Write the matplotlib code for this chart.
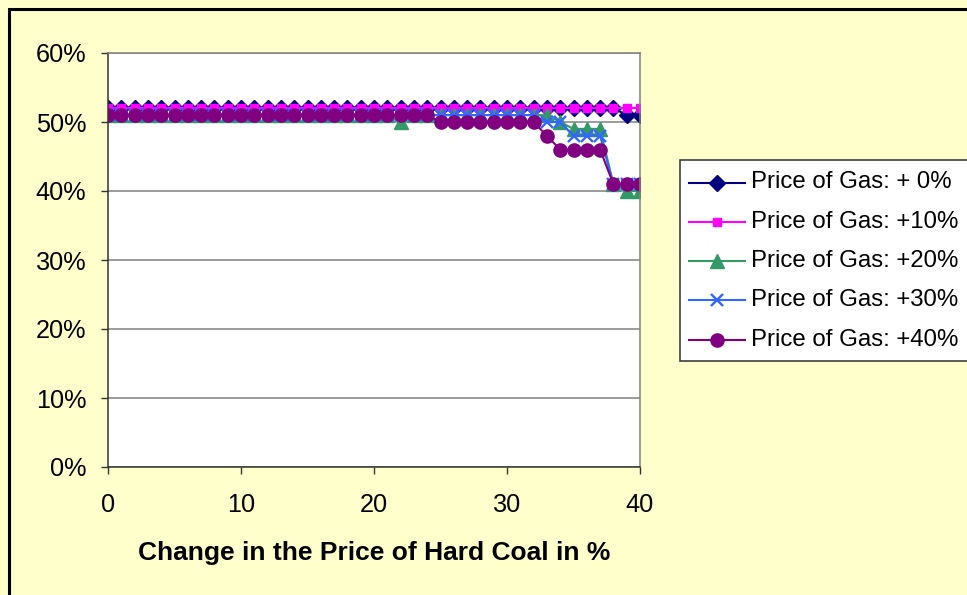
import matplotlib.pyplot as plt
from matplotlib.patches import Rectangle
from matplotlib.lines import Line2D
from matplotlib.ticker import FuncFormatter

plt.rcParams['font.family'] = ['Liberation Sans', 'DejaVu Sans']

# change in hard coal price, 0..40 %
coal_change = list(range(41))

# share read per series (in %)
gas_0 = [52, 52, 52, 52, 52, 52, 52, 52, 52, 52,
         52, 52, 52, 52, 52, 52, 52, 52, 52, 52,
         52, 52, 52, 52, 52, 52, 52, 52, 52, 52,
         52, 52, 52, 52, 52, 52, 52, 52, 52, 51, 51]
gas_10 = [52, 52, 52, 52, 52, 52, 52, 52, 52, 52,
          52, 52, 52, 52, 52, 52, 52, 52, 52, 52,
          52, 52, 52, 52, 52, 52, 52, 52, 52, 52,
          52, 52, 52, 52, 52, 52, 52, 52, 52, 52, 52]
gas_20 = [51, 51, 51, 51, 51, 51, 51, 51, 51, 51,
          51, 51, 51, 51, 51, 51, 51, 51, 51, 51,
          51, 51, 50, 51, 51, 51, 51, 51, 51, 51,
          51, 51, 51, 51, 50, 49, 49, 49, 41, 40, 40]
gas_30 = [51, 51, 51, 51, 51, 51, 51, 51, 51, 51,
          51, 51, 51, 51, 51, 51, 51, 51, 51, 51,
          51, 51, 51, 51, 51, 51, 51, 51, 51, 51,
          51, 51, 51, 50, 50, 48, 48, 48, 41, 41, 41]
gas_40 = [51, 51, 51, 51, 51, 51, 51, 51, 51, 51,
          51, 51, 51, 51, 51, 51, 51, 51, 51, 51,
          51, 51, 51, 51, 51, 50, 50, 50, 50, 50,
          50, 50, 50, 48, 46, 46, 46, 46, 41, 41, 41]

labels = ['Price of Gas: + 0%', 'Price of Gas: +10%', 'Price of Gas: +20%',
          'Price of Gas: +30%', 'Price of Gas: +40%']
series = [gas_0, gas_10, gas_20, gas_30, gas_40]
styles = [dict(color='#000080', marker='D', markersize=8.5),
          dict(color='#FF00FF', marker='s', markersize=6),
          dict(color='#339966', marker='^', markersize=9.5),
          dict(color='#3366FF', marker='x', markersize=9, mew=1.7),
          dict(color='#800080', marker='o', markersize=9.5)]

W, H = 967, 595
fig = plt.figure(figsize=(W / 100, H / 100), dpi=100, facecolor='#FFFFCC')
fig.patches.append(Rectangle((9 / W, -0.1), 1.2, 1 - 9 / H + 0.1,
                             transform=fig.transFigure, fill=False,
                             edgecolor='black', linewidth=2.2))

ax = fig.add_axes([108 / W, 128 / H, 532 / W, 414 / H])
ax.set_facecolor('white')

for vals, st in zip(series, styles):
    ax.plot(coal_change, vals, lw=1.5, **st)

ax.set_xlim(0, 40)
ax.set_ylim(0, 60)
ax.set_xticks([0, 10, 20, 30, 40])
ax.set_yticks(range(0, 61, 10))
ax.yaxis.set_major_formatter(FuncFormatter(lambda v, p: f'{v:.0f}%'))
ax.grid(axis='y', color='#808080', lw=1.1)
ax.set_axisbelow(True)

for s in ['top', 'right']:
    ax.spines[s].set_color('#808080')
    ax.spines[s].set_linewidth(1.1)
for s in ['left', 'bottom']:
    ax.spines[s].set_color('#333333')
    ax.spines[s].set_linewidth(1.1)

ax.tick_params(axis='both', direction='out', length=5, width=1, color='#333333',
               labelsize=18.2)
ax.tick_params(axis='y', pad=10.5)
ax.tick_params(axis='x', pad=14)
ax.set_xlabel('Change in the Price of Hard Coal in %', fontsize=19,
              fontweight='bold', labelpad=17)

# legend box runs off the right edge
fig.patches.append(Rectangle((680 / W, 1 - 361 / H), 0.5, 201 / H,
                             transform=fig.transFigure, facecolor='white',
                             edgecolor='#404040', linewidth=1.2, zorder=1))
for i, (lab, st) in enumerate(zip(labels, styles)):
    y = 1 - (182.5 + 39.3 * i) / H
    fig.add_artist(Line2D([689 / W, 745 / W], [y, y], transform=fig.transFigure,
                          lw=1.5, color=st['color']))
    fig.add_artist(Line2D([717 / W], [y], transform=fig.transFigure, ls='none',
                          **st))
    fig.text(751 / W, y, lab, fontsize=17.3, va='center', ha='left')

fig.savefig('out.png', dpi=100, facecolor=fig.get_facecolor())
